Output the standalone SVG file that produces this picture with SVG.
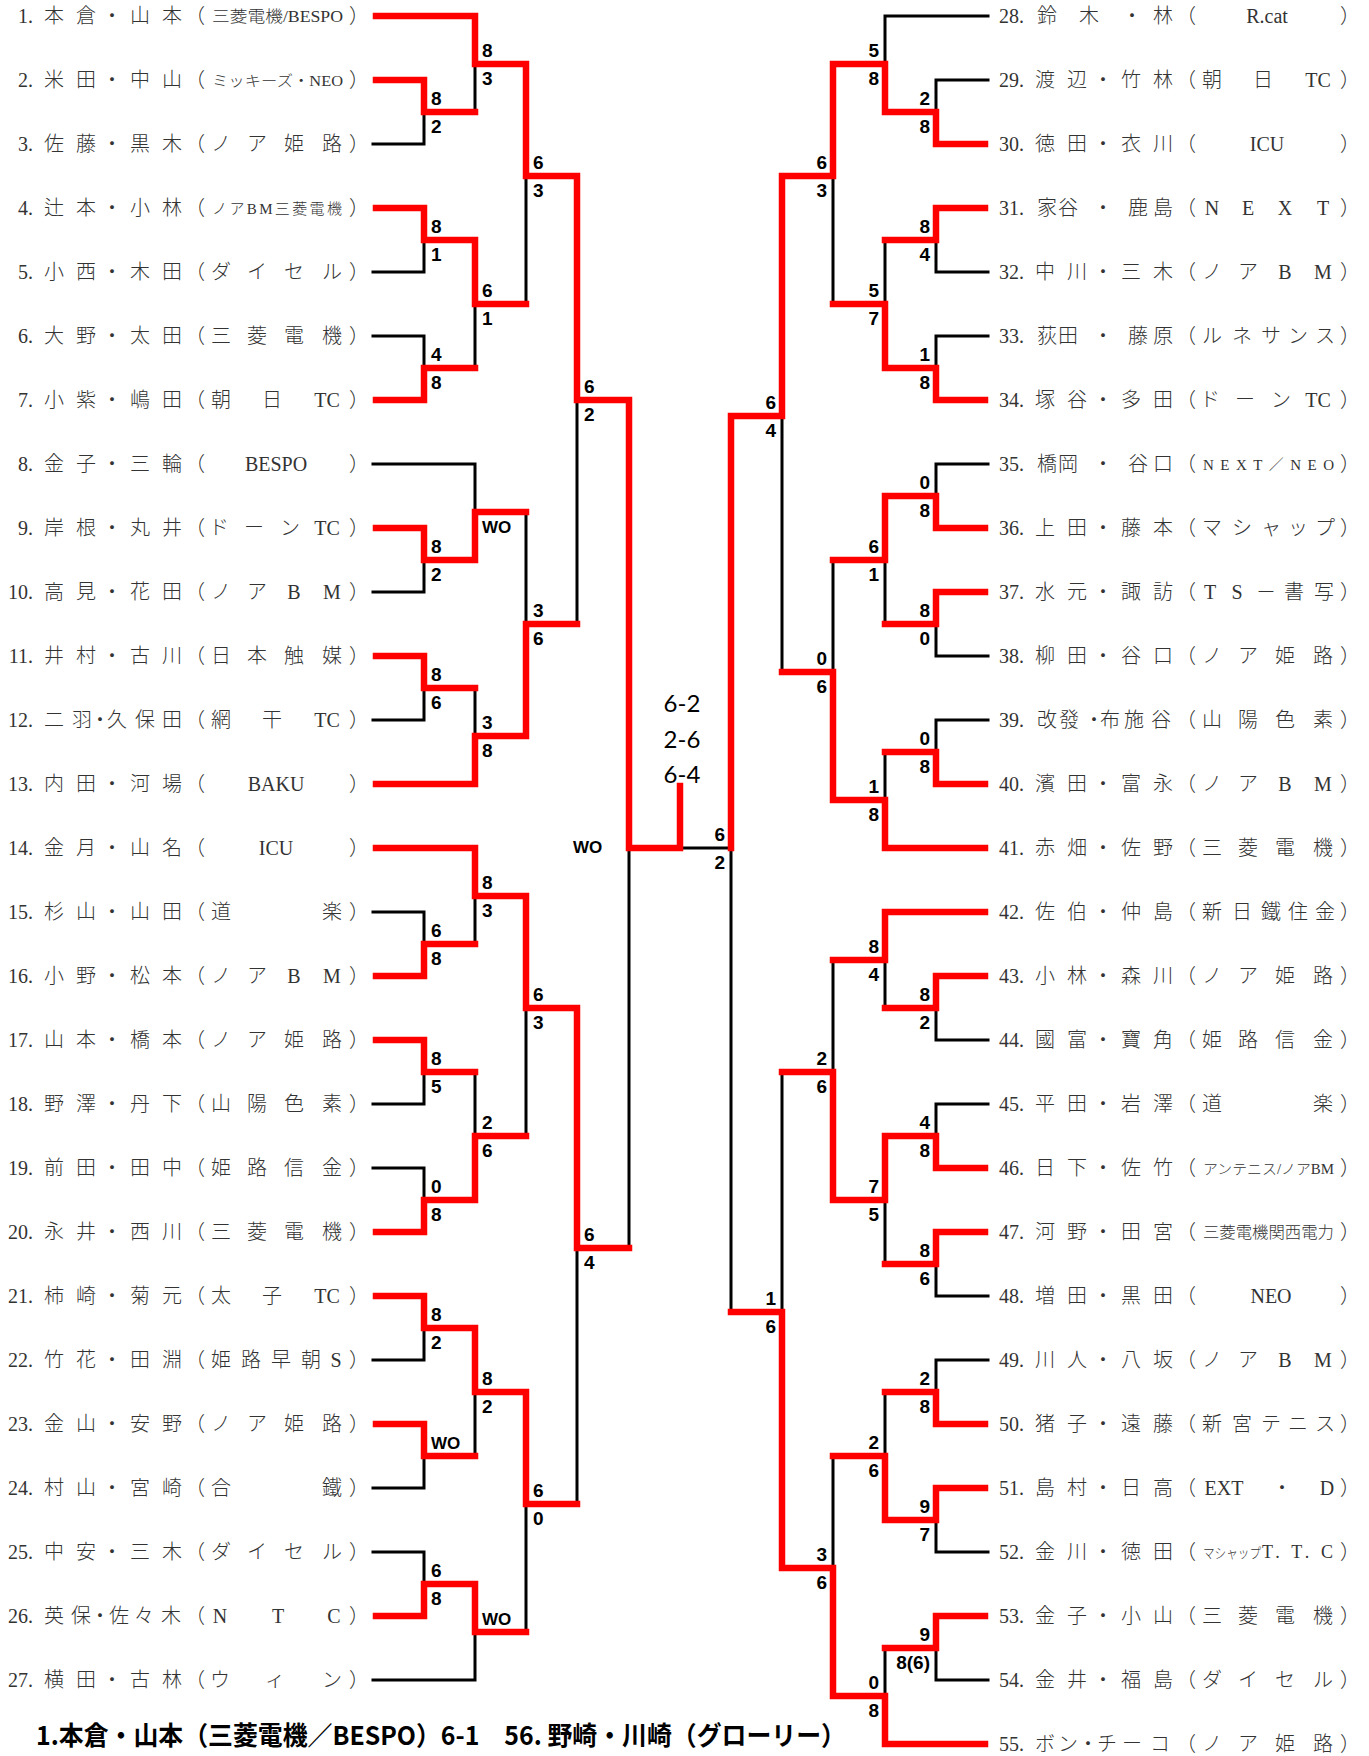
<svg xmlns="http://www.w3.org/2000/svg" width="1369" height="1756" viewBox="0 0 1369 1756">
<style>
.t{font-family:"Liberation Serif","Noto Sans CJK JP",serif;font-size:20px;fill:#333;font-weight:300}
.c{text-anchor:middle}
.e{text-anchor:end}
.pl{font-family:"Noto Sans CJK JP",sans-serif;font-size:20px;fill:#333;font-weight:300}
.s14{font-size:14px}.s15{font-size:15px}.s16{font-size:16px}.s18{font-size:18px}
.sc{font-family:"Liberation Sans",Arial,sans-serif;font-weight:bold;font-size:19px;fill:#000}
.sr{text-anchor:end}
.wo{font-family:"Liberation Sans",sans-serif;font-weight:bold;font-size:17px;fill:#000}
.fs{font-family:Lato,"Open Sans",sans-serif;font-size:24px;fill:#000;text-anchor:middle}
.cap{font-family:"Noto Sans CJK JP",sans-serif;font-weight:bold;font-size:26px;fill:#000}
.k{stroke:#000;stroke-width:3;fill:none;stroke-linecap:square}
.r{stroke:#f00;stroke-width:6.5;fill:none;stroke-linecap:square;stroke-linejoin:miter}
</style>
<rect width="1369" height="1756" fill="#fff"/>
<g id="connectors">
<path class="k" d="M373 144H424M373 272H424M373 336H424M373 464H475M373 592H424M373 720H424M373 912H424M373 1104H424M373 1168H424M373 1360H424M373 1488H424M373 1552H424M373 1680H475
M424 112V144M475 64V112M424 240V272M424 336V368M475 304V368M526 176V304M424 560V592M475 464V512M424 688V720M475 688V736M526 512V624M577 400V624M424 912V944M475 896V944M424 1072V1104M424 1168V1200M475 1072V1136M526 1008V1136M424 1328V1360M424 1456V1488M475 1392V1456M424 1552V1584M475 1632V1680M526 1504V1632M577 1248V1504M629 848V1248
M680 848H731
M988 16H885M988 80H936M988 272H936M988 336H936M988 464H936M988 656H936M988 720H936M988 1040H936M988 1104H936M988 1296H936M988 1360H936M988 1552H936M988 1680H936
M936 80V112M885 16V64M936 240V272M936 336V368M885 240V304M833 176V304M936 464V496M936 624V656M885 560V624M936 720V752M885 752V800M833 560V672M782 416V672M936 1008V1040M885 960V1008M936 1104V1136M936 1264V1296M885 1200V1264M833 960V1072M936 1360V1392M936 1520V1552M885 1392V1456M936 1648V1680M885 1648V1696M833 1456V1568M782 1072V1312M731 848V1312"/>
<path class="r" d="M376 16H475V64H526V176H577V400H629V848H680V786
M376 80H424V112H475
M376 208H424V240H475V304H526
M376 400H424V368H475
M376 528H424V560H475V512H526
M376 656H424V688H475
M376 784H475V736H526V624H577
M376 848H475V896H526V1008H577V1248H629
M376 976H424V944H475
M376 1040H424V1072H475
M376 1232H424V1200H475V1136H526
M376 1296H424V1328H475V1392H526V1504H577
M376 1424H424V1456H475
M376 1616H424V1584H475V1632H526
M985 144H936V112H885V64H833V176H782V416H731V848
M985 208H936V240H885
M985 400H936V368H885V304H833
M985 528H936V496H885V560H833
M985 592H936V624H885
M985 784H936V752H885
M985 848H885V800H833V672H782
M985 912H885V960H833
M985 976H936V1008H885
M985 1168H936V1136H885V1200H833V1072H782
M985 1232H936V1264H885
M985 1424H936V1392H885
M985 1488H936V1520H885V1456H833
M985 1616H936V1648H885
M985 1744H885V1696H833V1568H782V1312H731"/>
</g>
<g id="scores">
<text class="sc" x="431" y="105">8</text><text class="sc" x="431" y="133">2</text>
<text class="sc" x="482" y="57">8</text><text class="sc" x="482" y="85">3</text>
<text class="sc" x="431" y="233">8</text><text class="sc" x="431" y="261">1</text>
<text class="sc" x="431" y="361">4</text><text class="sc" x="431" y="389">8</text>
<text class="sc" x="482" y="297">6</text><text class="sc" x="482" y="325">1</text>
<text class="sc" x="533" y="169">6</text><text class="sc" x="533" y="197">3</text>
<text class="sc" x="431" y="553">8</text><text class="sc" x="431" y="581">2</text>
<text class="wo" x="482" y="533">WO</text>
<text class="sc" x="431" y="681">8</text><text class="sc" x="431" y="709">6</text>
<text class="sc" x="482" y="729">3</text><text class="sc" x="482" y="757">8</text>
<text class="sc" x="533" y="617">3</text><text class="sc" x="533" y="645">6</text>
<text class="sc" x="584" y="393">6</text><text class="sc" x="584" y="421">2</text>
<text class="sc" x="431" y="937">6</text><text class="sc" x="431" y="965">8</text>
<text class="sc" x="482" y="889">8</text><text class="sc" x="482" y="917">3</text>
<text class="sc" x="431" y="1065">8</text><text class="sc" x="431" y="1093">5</text>
<text class="sc" x="431" y="1193">0</text><text class="sc" x="431" y="1221">8</text>
<text class="sc" x="482" y="1129">2</text><text class="sc" x="482" y="1157">6</text>
<text class="sc" x="533" y="1001">6</text><text class="sc" x="533" y="1029">3</text>
<text class="sc" x="431" y="1321">8</text><text class="sc" x="431" y="1349">2</text>
<text class="wo" x="431" y="1449">WO</text>
<text class="sc" x="482" y="1385">8</text><text class="sc" x="482" y="1413">2</text>
<text class="sc" x="431" y="1577">6</text><text class="sc" x="431" y="1605">8</text>
<text class="wo" x="482" y="1625">WO</text>
<text class="sc" x="533" y="1497">6</text><text class="sc" x="533" y="1525">0</text>
<text class="sc" x="584" y="1241">6</text><text class="sc" x="584" y="1269">4</text>
<text class="wo" x="573" y="853">WO</text>
<text class="sc sr" x="930" y="105">2</text><text class="sc sr" x="930" y="133">8</text>
<text class="sc sr" x="879" y="57">5</text><text class="sc sr" x="879" y="85">8</text>
<text class="sc sr" x="930" y="233">8</text><text class="sc sr" x="930" y="261">4</text>
<text class="sc sr" x="930" y="361">1</text><text class="sc sr" x="930" y="389">8</text>
<text class="sc sr" x="879" y="297">5</text><text class="sc sr" x="879" y="325">7</text>
<text class="sc sr" x="827" y="169">6</text><text class="sc sr" x="827" y="197">3</text>
<text class="sc sr" x="930" y="489">0</text><text class="sc sr" x="930" y="517">8</text>
<text class="sc sr" x="930" y="617">8</text><text class="sc sr" x="930" y="645">0</text>
<text class="sc sr" x="879" y="553">6</text><text class="sc sr" x="879" y="581">1</text>
<text class="sc sr" x="930" y="745">0</text><text class="sc sr" x="930" y="773">8</text>
<text class="sc sr" x="879" y="793">1</text><text class="sc sr" x="879" y="821">8</text>
<text class="sc sr" x="827" y="665">0</text><text class="sc sr" x="827" y="693">6</text>
<text class="sc sr" x="776" y="409">6</text><text class="sc sr" x="776" y="437">4</text>
<text class="sc sr" x="930" y="1001">8</text><text class="sc sr" x="930" y="1029">2</text>
<text class="sc sr" x="879" y="953">8</text><text class="sc sr" x="879" y="981">4</text>
<text class="sc sr" x="930" y="1129">4</text><text class="sc sr" x="930" y="1157">8</text>
<text class="sc sr" x="930" y="1257">8</text><text class="sc sr" x="930" y="1285">6</text>
<text class="sc sr" x="879" y="1193">7</text><text class="sc sr" x="879" y="1221">5</text>
<text class="sc sr" x="827" y="1065">2</text><text class="sc sr" x="827" y="1093">6</text>
<text class="sc sr" x="930" y="1385">2</text><text class="sc sr" x="930" y="1413">8</text>
<text class="sc sr" x="930" y="1513">9</text><text class="sc sr" x="930" y="1541">7</text>
<text class="sc sr" x="879" y="1449">2</text><text class="sc sr" x="879" y="1477">6</text>
<text class="sc sr" x="930" y="1641">9</text><text class="sc sr" x="930" y="1669">8(6)</text>
<text class="sc sr" x="879" y="1689">0</text><text class="sc sr" x="879" y="1717">8</text>
<text class="sc sr" x="827" y="1561">3</text><text class="sc sr" x="827" y="1589">6</text>
<text class="sc sr" x="776" y="1305">1</text><text class="sc sr" x="776" y="1333">6</text>
<text class="sc sr" x="725" y="841">6</text><text class="sc sr" x="725" y="869">2</text>
<text class="fs" x="682" y="712">6-2</text>
<text class="fs" x="682" y="748">2-6</text>
<text class="fs" x="682" y="783">6-4</text>
</g>
<g id="p1" transform="translate(0,16)"><text class="t e" x="33" y="7">1.</text><text class="t c" x="54 86 112 140 172" y="7">本倉・山本</text><text class="pl" x="185" y="7">（</text><text class="t s16" x="212" y="6" textLength="131" lengthAdjust="spacingAndGlyphs">三菱電機/BESPO</text><text class="pl" x="349" y="7">）</text></g>
<g id="p2" transform="translate(0,80)"><text class="t e" x="33" y="7">2.</text><text class="t c" x="54 86 112 140 172" y="7">米田・中山</text><text class="pl" x="185" y="7">（</text><text class="t s15" x="212" y="6" textLength="131" lengthAdjust="spacingAndGlyphs">ミッキーズ・NEO</text><text class="pl" x="349" y="7">）</text></g>
<g id="p3" transform="translate(0,144)"><text class="t e" x="33" y="7">3.</text><text class="t c" x="54 86 112 140 172" y="7">佐藤・黒木</text><text class="pl" x="185" y="7">（</text><text class="t c" x="221 257 294 332" y="7">ノア姫路</text><text class="pl" x="349" y="7">）</text></g>
<g id="p4" transform="translate(0,208)"><text class="t e" x="33" y="7">4.</text><text class="t c" x="54 86 112 140 172" y="7">辻本・小林</text><text class="pl" x="185" y="7">（</text><text class="t s15" x="212" y="6" textLength="130" lengthAdjust="spacing">ノアBM三菱電機</text><text class="pl" x="349" y="7">）</text></g>
<g id="p5" transform="translate(0,272)"><text class="t e" x="33" y="7">5.</text><text class="t c" x="54 86 112 140 172" y="7">小西・木田</text><text class="pl" x="185" y="7">（</text><text class="t c" x="221 257 294 332" y="7">ダイセル</text><text class="pl" x="349" y="7">）</text></g>
<g id="p6" transform="translate(0,336)"><text class="t e" x="33" y="7">6.</text><text class="t c" x="54 86 112 140 172" y="7">大野・太田</text><text class="pl" x="185" y="7">（</text><text class="t c" x="221 257 294 332" y="7">三菱電機</text><text class="pl" x="349" y="7">）</text></g>
<g id="p7" transform="translate(0,400)"><text class="t e" x="33" y="7">7.</text><text class="t c" x="54 86 112 140 172" y="7">小紫・嶋田</text><text class="pl" x="185" y="7">（</text><text class="t c" x="221 272 327" y="7">朝日TC</text><text class="pl" x="349" y="7">）</text></g>
<g id="p8" transform="translate(0,464)"><text class="t e" x="33" y="7">8.</text><text class="t c" x="54 86 112 140 172" y="7">金子・三輪</text><text class="pl" x="185" y="7">（</text><text class="t c" x="276" y="7">BESPO</text><text class="pl" x="349" y="7">）</text></g>
<g id="p9" transform="translate(0,528)"><text class="t e" x="33" y="7">9.</text><text class="t c" x="54 86 112 140 172" y="7">岸根・丸井</text><text class="pl" x="185" y="7">（</text><text class="t c" x="219 254 290 327" y="7">ドーンTC</text><text class="pl" x="349" y="7">）</text></g>
<g id="p10" transform="translate(0,592)"><text class="t e" x="33" y="7">10.</text><text class="t c" x="54 86 112 140 172" y="7">高見・花田</text><text class="pl" x="185" y="7">（</text><text class="t c" x="221 257 294 332" y="7">ノアBM</text><text class="pl" x="349" y="7">）</text></g>
<g id="p11" transform="translate(0,656)"><text class="t e" x="33" y="7">11.</text><text class="t c" x="54 86 112 140 172" y="7">井村・古川</text><text class="pl" x="185" y="7">（</text><text class="t c" x="221 257 294 332" y="7">日本触媒</text><text class="pl" x="349" y="7">）</text></g>
<g id="p12" transform="translate(0,720)"><text class="t e" x="33" y="7">12.</text><text class="t c" x="54 82 100 117 145 172" y="7">二羽・久保田</text><text class="pl" x="185" y="7">（</text><text class="t c" x="221 272 327" y="7">網干TC</text><text class="pl" x="349" y="7">）</text></g>
<g id="p13" transform="translate(0,784)"><text class="t e" x="33" y="7">13.</text><text class="t c" x="54 86 112 140 172" y="7">内田・河場</text><text class="pl" x="185" y="7">（</text><text class="t c" x="276" y="7">BAKU</text><text class="pl" x="349" y="7">）</text></g>
<g id="p14" transform="translate(0,848)"><text class="t e" x="33" y="7">14.</text><text class="t c" x="54 86 112 140 172" y="7">金月・山名</text><text class="pl" x="185" y="7">（</text><text class="t c" x="276" y="7">ICU</text><text class="pl" x="349" y="7">）</text></g>
<g id="p15" transform="translate(0,912)"><text class="t e" x="33" y="7">15.</text><text class="t c" x="54 86 112 140 172" y="7">杉山・山田</text><text class="pl" x="185" y="7">（</text><text class="t c" x="221 332" y="7">道楽</text><text class="pl" x="349" y="7">）</text></g>
<g id="p16" transform="translate(0,976)"><text class="t e" x="33" y="7">16.</text><text class="t c" x="54 86 112 140 172" y="7">小野・松本</text><text class="pl" x="185" y="7">（</text><text class="t c" x="221 257 294 332" y="7">ノアBM</text><text class="pl" x="349" y="7">）</text></g>
<g id="p17" transform="translate(0,1040)"><text class="t e" x="33" y="7">17.</text><text class="t c" x="54 86 112 140 172" y="7">山本・橋本</text><text class="pl" x="185" y="7">（</text><text class="t c" x="221 257 294 332" y="7">ノア姫路</text><text class="pl" x="349" y="7">）</text></g>
<g id="p18" transform="translate(0,1104)"><text class="t e" x="33" y="7">18.</text><text class="t c" x="54 86 112 140 172" y="7">野澤・丹下</text><text class="pl" x="185" y="7">（</text><text class="t c" x="221 257 294 332" y="7">山陽色素</text><text class="pl" x="349" y="7">）</text></g>
<g id="p19" transform="translate(0,1168)"><text class="t e" x="33" y="7">19.</text><text class="t c" x="54 86 112 140 172" y="7">前田・田中</text><text class="pl" x="185" y="7">（</text><text class="t c" x="221 257 294 332" y="7">姫路信金</text><text class="pl" x="349" y="7">）</text></g>
<g id="p20" transform="translate(0,1232)"><text class="t e" x="33" y="7">20.</text><text class="t c" x="54 86 112 140 172" y="7">永井・西川</text><text class="pl" x="185" y="7">（</text><text class="t c" x="221 257 294 332" y="7">三菱電機</text><text class="pl" x="349" y="7">）</text></g>
<g id="p21" transform="translate(0,1296)"><text class="t e" x="33" y="7">21.</text><text class="t c" x="54 86 112 140 172" y="7">柿崎・菊元</text><text class="pl" x="185" y="7">（</text><text class="t c" x="221 272 327" y="7">太子TC</text><text class="pl" x="349" y="7">）</text></g>
<g id="p22" transform="translate(0,1360)"><text class="t e" x="33" y="7">22.</text><text class="t c" x="54 86 112 140 172" y="7">竹花・田淵</text><text class="pl" x="185" y="7">（</text><text class="t c" x="221 251 281 311 336" y="7">姫路早朝S</text><text class="pl" x="349" y="7">）</text></g>
<g id="p23" transform="translate(0,1424)"><text class="t e" x="33" y="7">23.</text><text class="t c" x="54 86 112 140 172" y="7">金山・安野</text><text class="pl" x="185" y="7">（</text><text class="t c" x="221 257 294 332" y="7">ノア姫路</text><text class="pl" x="349" y="7">）</text></g>
<g id="p24" transform="translate(0,1488)"><text class="t e" x="33" y="7">24.</text><text class="t c" x="54 86 112 140 172" y="7">村山・宮崎</text><text class="pl" x="185" y="7">（</text><text class="t c" x="221 332" y="7">合鐵</text><text class="pl" x="349" y="7">）</text></g>
<g id="p25" transform="translate(0,1552)"><text class="t e" x="33" y="7">25.</text><text class="t c" x="54 86 112 140 172" y="7">中安・三木</text><text class="pl" x="185" y="7">（</text><text class="t c" x="221 257 294 332" y="7">ダイセル</text><text class="pl" x="349" y="7">）</text></g>
<g id="p26" transform="translate(0,1616)"><text class="t e" x="33" y="7">26.</text><text class="t c" x="54 81 100 119 144 171" y="7">英保・佐々木</text><text class="pl" x="185" y="7">（</text><text class="t c" x="220 278 334" y="7">NTC</text><text class="pl" x="349" y="7">）</text></g>
<g id="p27" transform="translate(0,1680)"><text class="t e" x="33" y="7">27.</text><text class="t c" x="54 86 112 140 172" y="7">横田・古林</text><text class="pl" x="185" y="7">（</text><text class="t c" x="220 275 332" y="7">ウィン</text><text class="pl" x="349" y="7">）</text></g>
<g id="p28" transform="translate(991,16)"><text class="t e" x="33" y="7">28.</text><text class="t c" x="56 98 141 172" y="7">鈴木・林</text><text class="pl" x="185" y="7">（</text><text class="t c" x="276" y="7">R.cat</text><text class="pl" x="349" y="7">）</text></g>
<g id="p29" transform="translate(991,80)"><text class="t e" x="33" y="7">29.</text><text class="t c" x="54 86 112 140 172" y="7">渡辺・竹林</text><text class="pl" x="185" y="7">（</text><text class="t c" x="221 272 327" y="7">朝日TC</text><text class="pl" x="349" y="7">）</text></g>
<g id="p30" transform="translate(991,144)"><text class="t e" x="33" y="7">30.</text><text class="t c" x="54 86 112 140 172" y="7">徳田・衣川</text><text class="pl" x="185" y="7">（</text><text class="t c" x="276" y="7">ICU</text><text class="pl" x="349" y="7">）</text></g>
<g id="p31" transform="translate(991,208)"><text class="t e" x="33" y="7">31.</text><text class="t c" x="56 77 112 147 172" y="7">家谷・鹿島</text><text class="pl" x="185" y="7">（</text><text class="t c" x="221 257 294 332" y="7">NEXT</text><text class="pl" x="349" y="7">）</text></g>
<g id="p32" transform="translate(991,272)"><text class="t e" x="33" y="7">32.</text><text class="t c" x="54 86 112 140 172" y="7">中川・三木</text><text class="pl" x="185" y="7">（</text><text class="t c" x="221 257 294 332" y="7">ノアBM</text><text class="pl" x="349" y="7">）</text></g>
<g id="p33" transform="translate(991,336)"><text class="t e" x="33" y="7">33.</text><text class="t c" x="56 77 112 147 172" y="7">荻田・藤原</text><text class="pl" x="185" y="7">（</text><text class="t c" x="221 251 280 307 334" y="7">ルネサンス</text><text class="pl" x="349" y="7">）</text></g>
<g id="p34" transform="translate(991,400)"><text class="t e" x="33" y="7">34.</text><text class="t c" x="54 86 112 140 172" y="7">塚谷・多田</text><text class="pl" x="185" y="7">（</text><text class="t c" x="219 254 290 327" y="7">ドーンTC</text><text class="pl" x="349" y="7">）</text></g>
<g id="p35" transform="translate(991,464)"><text class="t e" x="33" y="7">35.</text><text class="t c" x="56 77 112 147 172" y="7">橋岡・谷口</text><text class="pl" x="185" y="7">（</text><text class="t s15" x="212" y="6" textLength="131" lengthAdjust="spacing">NEXT／NEO</text><text class="pl" x="349" y="7">）</text></g>
<g id="p36" transform="translate(991,528)"><text class="t e" x="33" y="7">36.</text><text class="t c" x="54 86 112 140 172" y="7">上田・藤本</text><text class="pl" x="185" y="7">（</text><text class="t c" x="221 251 280 307 334" y="7">マシャップ</text><text class="pl" x="349" y="7">）</text></g>
<g id="p37" transform="translate(991,592)"><text class="t e" x="33" y="7">37.</text><text class="t c" x="54 86 112 140 172" y="7">水元・諏訪</text><text class="pl" x="185" y="7">（</text><text class="t c" x="219 246 275 303 333" y="7">TS－書写</text><text class="pl" x="349" y="7">）</text></g>
<g id="p38" transform="translate(991,656)"><text class="t e" x="33" y="7">38.</text><text class="t c" x="54 86 112 140 172" y="7">柳田・谷口</text><text class="pl" x="185" y="7">（</text><text class="t c" x="221 257 294 332" y="7">ノア姫路</text><text class="pl" x="349" y="7">）</text></g>
<g id="p39" transform="translate(991,720)"><text class="t e" x="33" y="7">39.</text><text class="t c" x="56 78 103 119 143 170" y="7">改發・布施谷</text><text class="pl" x="185" y="7">（</text><text class="t c" x="221 257 294 332" y="7">山陽色素</text><text class="pl" x="349" y="7">）</text></g>
<g id="p40" transform="translate(991,784)"><text class="t e" x="33" y="7">40.</text><text class="t c" x="54 86 112 140 172" y="7">濱田・富永</text><text class="pl" x="185" y="7">（</text><text class="t c" x="221 257 294 332" y="7">ノアBM</text><text class="pl" x="349" y="7">）</text></g>
<g id="p41" transform="translate(991,848)"><text class="t e" x="33" y="7">41.</text><text class="t c" x="54 86 112 140 172" y="7">赤畑・佐野</text><text class="pl" x="185" y="7">（</text><text class="t c" x="221 257 294 332" y="7">三菱電機</text><text class="pl" x="349" y="7">）</text></g>
<g id="p42" transform="translate(991,912)"><text class="t e" x="33" y="7">42.</text><text class="t c" x="54 86 112 140 172" y="7">佐伯・仲島</text><text class="pl" x="185" y="7">（</text><text class="t c" x="221 251 280 307 334" y="7">新日鐵住金</text><text class="pl" x="349" y="7">）</text></g>
<g id="p43" transform="translate(991,976)"><text class="t e" x="33" y="7">43.</text><text class="t c" x="54 86 112 140 172" y="7">小林・森川</text><text class="pl" x="185" y="7">（</text><text class="t c" x="221 257 294 332" y="7">ノア姫路</text><text class="pl" x="349" y="7">）</text></g>
<g id="p44" transform="translate(991,1040)"><text class="t e" x="33" y="7">44.</text><text class="t c" x="54 86 112 140 172" y="7">國富・寶角</text><text class="pl" x="185" y="7">（</text><text class="t c" x="221 257 294 332" y="7">姫路信金</text><text class="pl" x="349" y="7">）</text></g>
<g id="p45" transform="translate(991,1104)"><text class="t e" x="33" y="7">45.</text><text class="t c" x="54 86 112 140 172" y="7">平田・岩澤</text><text class="pl" x="185" y="7">（</text><text class="t c" x="221 332" y="7">道楽</text><text class="pl" x="349" y="7">）</text></g>
<g id="p46" transform="translate(991,1168)"><text class="t e" x="33" y="7">46.</text><text class="t c" x="54 86 112 140 172" y="7">日下・佐竹</text><text class="pl" x="185" y="7">（</text><text class="t s14" x="212" y="6" textLength="131" lengthAdjust="spacingAndGlyphs">アンテニス/ノアBM</text><text class="pl" x="349" y="7">）</text></g>
<g id="p47" transform="translate(991,1232)"><text class="t e" x="33" y="7">47.</text><text class="t c" x="54 86 112 140 172" y="7">河野・田宮</text><text class="pl" x="185" y="7">（</text><text class="t s16" x="212" y="6" textLength="131" lengthAdjust="spacingAndGlyphs">三菱電機関西電力</text><text class="pl" x="349" y="7">）</text></g>
<g id="p48" transform="translate(991,1296)"><text class="t e" x="33" y="7">48.</text><text class="t c" x="54 86 112 140 172" y="7">増田・黒田</text><text class="pl" x="185" y="7">（</text><text class="t c" x="280" y="7">NEO</text><text class="pl" x="349" y="7">）</text></g>
<g id="p49" transform="translate(991,1360)"><text class="t e" x="33" y="7">49.</text><text class="t c" x="54 86 112 140 172" y="7">川人・八坂</text><text class="pl" x="185" y="7">（</text><text class="t c" x="221 257 294 332" y="7">ノアBM</text><text class="pl" x="349" y="7">）</text></g>
<g id="p50" transform="translate(991,1424)"><text class="t e" x="33" y="7">50.</text><text class="t c" x="54 86 112 140 172" y="7">猪子・遠藤</text><text class="pl" x="185" y="7">（</text><text class="t c" x="221 251 280 307 334" y="7">新宮テニス</text><text class="pl" x="349" y="7">）</text></g>
<g id="p51" transform="translate(991,1488)"><text class="t e" x="33" y="7">51.</text><text class="t c" x="54 86 112 140 172" y="7">島村・日高</text><text class="pl" x="185" y="7">（</text><text class="t c" y="7"><tspan x="233">EXT</tspan><tspan x="291">・</tspan><tspan x="336">D</tspan></text><text class="pl" x="349" y="7">）</text></g>
<g id="p52" transform="translate(991,1552)"><text class="t e" x="33" y="7">52.</text><text class="t c" x="54 86 112 140 172" y="7">金川・徳田</text><text class="pl" x="185" y="7">（</text><text class="t s14" x="212" y="6" textLength="58" lengthAdjust="spacingAndGlyphs">マシャップ</text><text class="t s18" x="271" y="6" textLength="71" lengthAdjust="spacing">T. T. C</text><text class="pl" x="349" y="7">）</text></g>
<g id="p53" transform="translate(991,1616)"><text class="t e" x="33" y="7">53.</text><text class="t c" x="54 86 112 140 172" y="7">金子・小山</text><text class="pl" x="185" y="7">（</text><text class="t c" x="221 257 294 332" y="7">三菱電機</text><text class="pl" x="349" y="7">）</text></g>
<g id="p54" transform="translate(991,1680)"><text class="t e" x="33" y="7">54.</text><text class="t c" x="54 86 112 140 172" y="7">金井・福島</text><text class="pl" x="185" y="7">（</text><text class="t c" x="221 257 294 332" y="7">ダイセル</text><text class="pl" x="349" y="7">）</text></g>
<g id="p55" transform="translate(991,1744)"><text class="t e" x="33" y="7">55.</text><text class="t c" x="54 77 97 116 141 169" y="7">ボン・チーコ</text><text class="pl" x="185" y="7">（</text><text class="t c" x="221 257 294 332" y="7">ノア姫路</text><text class="pl" x="349" y="7">）</text></g>
<g id="result"><text class="cap" x="36" y="1745" textLength="810" lengthAdjust="spacingAndGlyphs">1.本倉・山本（三菱電機／BESPO）6-1　56. 野崎・川崎（グローリー）</text></g>
</svg>
